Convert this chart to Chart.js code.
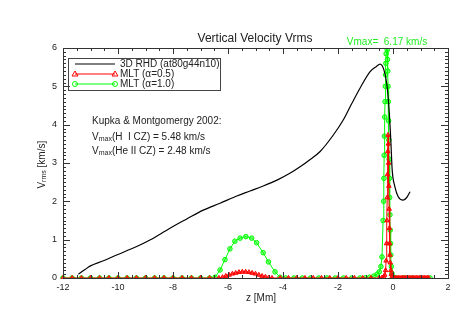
<!DOCTYPE html>
<html>
<head>
<meta charset="utf-8">
<script src="https://cdn.jsdelivr.net/npm/chart.js@4.4.1/dist/chart.umd.min.js"></script>
<style>
  html, body { margin: 0; padding: 0; background: #fff; }
  canvas { display: block; }
</style>
</head>
<body>
<canvas id="vrmsChart" width="463" height="312"></canvas>
<script>
// Valeurs
const xTicks = [-12, -10, -8, -6, -4, -2, 0, 2];
const yTicks = [0, 1, 2, 3, 4, 5, 6];

// 3D RHD (at80g44n10)
const rhdZ = [-11.44, -11.2, -11.02, -10.53, -10.05, -9.32, -8.84, -8.11, -7.5, -6.9, -6.29, -5.68,
  -5.2, -4.72, -4.2, -3.75, -3.38, -3.0, -2.65, -2.17, -1.81, -1.5, -1.2, -0.84, -0.6, -0.47,
  -0.33, -0.23, -0.15, -0.08, -0.03, 0.07, 0.19, 0.37, 0.5, 0.62];
const rhdV = [0.10, 0.22, 0.31, 0.45, 0.60, 0.82, 0.99, 1.30, 1.54, 1.77, 1.95, 2.14,
  2.27, 2.40, 2.56, 2.73, 2.90, 3.10, 3.30, 3.73, 4.12, 4.55, 4.95, 5.38, 5.52, 5.58,
  5.43, 5.08, 4.47, 3.60, 2.82, 2.38, 2.12, 2.03, 2.10, 2.25];

// MLT (alpha = 0.5)
const mlt05Z = [-12, -11.67, -11.33, -11, -10.67, -10.33, -10, -9.67, -9.33, -9, -8.67, -8.33, -8,
  -7.67, -7.33, -7, -6.67, -6.33, -6.2, -6.08, -5.96, -5.84, -5.72, -5.6, -5.48, -5.36, -5.24,
  -5.12, -5.0, -4.88, -4.76, -4.64, -4.52, -4.4, -4.1, -3.8, -3.5, -3.2, -2.9, -2.6, -2.3, -2.0,
  -1.7, -1.4, -1.1, -0.8, -0.5, -0.4, -0.34, -0.3, -0.27, -0.25, -0.235, -0.22, -0.21, -0.2,
  -0.19, -0.18, -0.17, -0.16, -0.15, -0.14, -0.13, -0.12, -0.11, -0.1, -0.08, -0.06, -0.03, 0.0,
  0.05, 0.1, 0.15, 0.2, 0.25, 0.3, 0.35, 0.4, 0.45, 0.5, 0.55, 0.6, 0.65, 0.7, 0.75, 0.8, 0.85,
  0.9, 0.95, 1.0, 1.05, 1.1, 1.15, 1.2, 1.25, 1.3];
const mlt05V = [0, 0, 0, 0, 0, 0, 0, 0, 0, 0, 0, 0, 0,
  0, 0, 0, 0, 0, 0.02, 0.05, 0.08, 0.11, 0.13, 0.15, 0.16, 0.16, 0.15,
  0.13, 0.11, 0.08, 0.05, 0.03, 0.01, 0, 0, 0, 0, 0, 0, 0, 0, 0,
  0, 0, 0, 0, 0, 0.01, 0.03, 0.08, 0.2, 0.45, 0.9, 1.5, 2.1, 2.7,
  3.3, 3.73, 3.5, 3.0, 2.4, 1.8, 1.3, 0.9, 0.6, 0.4, 0.2, 0.1, 0.04, 0.02,
  0, 0, 0, 0, 0, 0, 0, 0, 0, 0, 0, 0, 0, 0, 0, 0, 0,
  0, 0, 0, 0, 0, 0, 0, 0, 0];

// MLT (alpha = 1.0)
const mlt10Z = [-12, -11.67, -11.33, -11, -10.67, -10.33, -10, -9.67, -9.33, -9, -8.67, -8.33, -8,
  -7.67, -7.33, -7, -6.67, -6.47, -6.29, -6.11, -5.93, -5.75, -5.56, -5.35, -5.14, -4.96, -4.72,
  -4.53, -4.29, -4.11, -3.9, -3.6, -3.3, -3.0, -2.7, -2.4, -2.1, -1.8, -1.5, -1.2, -1.0, -0.85,
  -0.7, -0.58, -0.5, -0.44, -0.4, -0.36, -0.34, -0.33, -0.32, -0.31, -0.3, -0.29, -0.28, -0.27,
  -0.26, -0.25, -0.24, -0.23, -0.22, -0.21, -0.2, -0.19, -0.18, -0.17, -0.16, -0.15, -0.14, -0.13,
  -0.12, -0.11, -0.1, -0.09, -0.08, -0.06, -0.04, -0.01, 0.05, 0.1, 0.4, 0.7, 1.0, 1.35];
const mlt10V = [0, 0, 0, 0, 0, 0, 0, 0, 0, 0, 0, 0, 0,
  0, 0, 0, 0, 0.02, 0.21, 0.48, 0.76, 0.96, 1.04, 1.08, 1.04, 0.92, 0.66,
  0.42, 0.16, 0.02, 0, 0, 0, 0, 0, 0, 0, 0, 0, 0, 0.005, 0.02,
  0.05, 0.1, 0.16, 0.3, 0.55, 1.5, 2.0, 2.6, 3.2, 3.7, 4.2, 4.6, 5.0, 5.3,
  5.6, 5.85, 6.05, 6.17, 6.12, 5.95, 5.7, 5.4, 5.0, 4.6, 4.1, 3.6, 3.1, 2.6,
  2.1, 1.65, 1.25, 0.9, 0.6, 0.3, 0.12, 0.04, 0.01, 0, 0, 0, 0, 0];

const red = '#ff0000';
const green = '#00ff00';
const ink = '#222222';
const fontName = '"Liberation Sans", Arial, sans-serif';

function toPoints(zs, vs) {
    return zs.map((z, i) => ({ x: z, y: vs[i] }));
}

// Texte avec indice (V_max, V_rms)
function drawSub(ctx, x, y, base, sub, rest, size) {
    ctx.font = `${size}px ${fontName}`;
    ctx.fillText(base, x, y);
    let w = ctx.measureText(base).width;
    ctx.font = `${Math.round(size * 0.7)}px ${fontName}`;
    ctx.fillText(sub, x + w, y + 2.5);
    w += ctx.measureText(sub).width;
    ctx.font = `${size}px ${fontName}`;
    ctx.fillText(rest, x + w, y);
}

function drawMarker(ctx, style, x, y, color) {
    ctx.strokeStyle = color;
    ctx.lineWidth = 1;
    ctx.beginPath();
    if (style === 'triangle') {
        ctx.moveTo(x, y - 3);
        ctx.lineTo(x + 3, y + 2);
        ctx.lineTo(x - 3, y + 2);
        ctx.closePath();
    } else {
        ctx.arc(x, y, 2.5, 0, Math.PI * 2);
    }
    ctx.stroke();
}

// Cadre style IDL : ticks vers l'intérieur sur les 4 côtés, textes
const idlFrame = {
    id: 'idlFrame',
    afterDraw(chart) {
        const { ctx, chartArea: a, scales: { x, y } } = chart;
        ctx.save();
        ctx.strokeStyle = '#333';
        ctx.lineWidth = 1;
        ctx.strokeRect(a.left + 0.5, a.top + 0.5, a.right - a.left, a.bottom - a.top);

        ctx.beginPath();
        for (let i = 0; i < xTicks.length; i++) {
            const px = Math.round(x.getPixelForValue(xTicks[i])) + 0.5;
            ctx.moveTo(px, a.bottom); ctx.lineTo(px, a.bottom - 6);
            ctx.moveTo(px, a.top); ctx.lineTo(px, a.top + 6);
            if (i < xTicks.length - 1) {
                for (let k = 1; k < 4; k++) {
                    const v = xTicks[i] + (xTicks[i + 1] - xTicks[i]) * k / 4;
                    const mx = Math.round(x.getPixelForValue(v)) + 0.5;
                    ctx.moveTo(mx, a.bottom); ctx.lineTo(mx, a.bottom - 3);
                    ctx.moveTo(mx, a.top); ctx.lineTo(mx, a.top + 3);
                }
            }
        }
        for (let i = 0; i < yTicks.length; i++) {
            const py = Math.round(y.getPixelForValue(yTicks[i])) + 0.5;
            ctx.moveTo(a.left, py); ctx.lineTo(a.left + 7, py);
            ctx.moveTo(a.right, py); ctx.lineTo(a.right - 7, py);
            if (i < yTicks.length - 1) {
                for (let k = 1; k < 10; k++) {
                    const v = yTicks[i] + (yTicks[i + 1] - yTicks[i]) * k / 10;
                    const my = Math.round(y.getPixelForValue(v)) + 0.5;
                    ctx.moveTo(a.left, my); ctx.lineTo(a.left + 3, my);
                    ctx.moveTo(a.right, my); ctx.lineTo(a.right - 3, my);
                }
            }
        }
        ctx.stroke();

        // Libellés des ticks
        ctx.fillStyle = ink;
        ctx.font = `9px ${fontName}`;
        ctx.textAlign = 'center';
        ctx.textBaseline = 'middle';
        xTicks.forEach(t => ctx.fillText(String(t), x.getPixelForValue(t), 288));
        ctx.textAlign = 'right';
        yTicks.forEach(t => ctx.fillText(String(t), 57, y.getPixelForValue(t)));

        // Titres
        ctx.textAlign = 'center';
        ctx.font = `12px ${fontName}`;
        ctx.fillText('Vertical Velocity Vrms', 255, 39);
        ctx.font = `10px ${fontName}`;
        ctx.fillText('z [Mm]', 261, 298);
        ctx.fillStyle = '#22ee22';
        ctx.fillText('Vmax=  6.17 km/s', 387, 42);

        // Titre axe y (vertical)
        ctx.fillStyle = ink;
        ctx.save();
        ctx.translate(42, 165);
        ctx.rotate(-Math.PI / 2);
        ctx.textAlign = 'left';
        ctx.font = `10px ${fontName}`;
        const lw = ctx.measureText('V').width + 11 + ctx.measureText(' [km/s]').width;
        drawSub(ctx, -lw / 2, 0, 'V', 'rms', ' [km/s]', 10);
        ctx.restore();

        // Légende
        ctx.strokeStyle = '#444';
        ctx.lineWidth = 1;
        ctx.strokeRect(68.5, 58.5, 152, 32);
        const rows = [
            { y: 64, color: '#000', label: '3D RHD (at80g44n10)', marker: null },
            { y: 74, color: red, label: 'MLT (\u03b1=0.5)', marker: 'triangle' },
            { y: 84, color: green, label: 'MLT (\u03b1=1.0)', marker: 'circle' },
        ];
        rows.forEach(r => {
            ctx.strokeStyle = r.color;
            ctx.lineWidth = r.marker ? 1 : 1.2;
            ctx.beginPath();
            ctx.moveTo(75, r.y); ctx.lineTo(115, r.y);
            ctx.stroke();
            if (r.marker) {
                drawMarker(ctx, r.marker, 75, r.y, r.color);
                drawMarker(ctx, r.marker, 115, r.y, r.color);
            }
            ctx.fillStyle = ink;
            ctx.textAlign = 'left';
            ctx.font = `10px ${fontName}`;
            ctx.fillText(r.label, 120, r.y);
        });

        // Annotation Kupka & Montgomery
        ctx.fillStyle = ink;
        ctx.textAlign = 'left';
        ctx.font = `10px ${fontName}`;
        ctx.fillText('Kupka & Montgomergy 2002:', 92, 121);
        drawSub(ctx, 92, 137, 'V', 'max', '(H  I CZ) = 5.48 km/s', 10);
        drawSub(ctx, 92, 151, 'V', 'max', '(He II CZ) = 2.48 km/s', 10);
        ctx.restore();
    },
};

function initVrmsChart() {
    const canvas = document.getElementById('vrmsChart');
    new Chart(canvas, {
        type: 'scatter',
        data: {
            datasets: [{
                label: '3D RHD (at80g44n10)',
                data: toPoints(rhdZ, rhdV),
                showLine: true,
                borderColor: '#000',
                borderWidth: 1.2,
                pointRadius: 0,
                cubicInterpolationMode: 'monotone',
            }, {
                label: 'MLT (\u03b1=0.5)',
                data: toPoints(mlt05Z, mlt05V),
                showLine: true,
                borderColor: red,
                borderWidth: 1,
                pointStyle: 'triangle',
                pointRadius: 2.6,
                pointBorderWidth: 1,
                pointBorderColor: red,
                pointBackgroundColor: 'rgba(255, 0, 0, 0.6)',
                tension: 0,
                clip: { left: 4, top: 0, right: 4, bottom: 1 },
            }, {
                label: 'MLT (\u03b1=1.0)',
                data: toPoints(mlt10Z, mlt10V),
                showLine: true,
                borderColor: green,
                borderWidth: 1,
                pointStyle: 'circle',
                pointRadius: 2.3,
                pointBorderWidth: 1,
                pointBorderColor: green,
                pointBackgroundColor: 'rgba(0, 255, 0, 0.5)',
                tension: 0,
                clip: { left: 4, top: 0, right: 4, bottom: 1 },
            }],
        },
        options: {
            responsive: false,
            animation: false,
            devicePixelRatio: 1,
            layout: { padding: { left: 63, right: 15, top: 48, bottom: 34 } },
            plugins: {
                legend: { display: false },
                tooltip: { enabled: false },
            },
            scales: {
                x: { type: 'linear', min: -12, max: 2, display: false },
                y: { type: 'linear', min: 0, max: 6, display: false },
            },
        },
        plugins: [idlFrame],
    });
}

document.addEventListener('DOMContentLoaded', initVrmsChart);
</script>
</body>
</html>
